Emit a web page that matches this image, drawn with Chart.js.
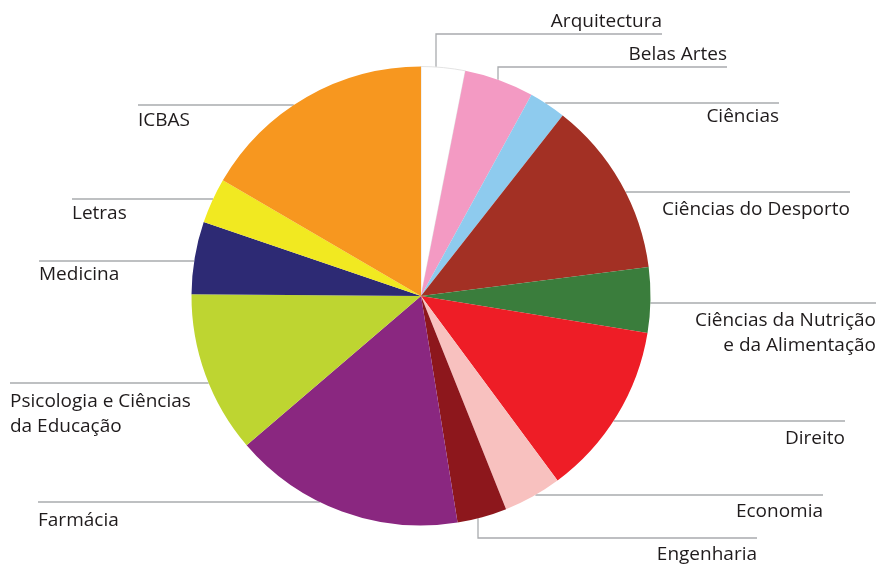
<!DOCTYPE html>
<html>
<head>
<meta charset="utf-8">
<script src="https://cdn.jsdelivr.net/npm/chart.js@4"></script>
<style>
  html, body { margin: 0; padding: 0; background: #fff; }
  #wrap { width: 877px; height: 564px; position: relative; }
</style>
</head>
<body>
<div id="wrap"><canvas id="myChart" width="877" height="564"></canvas></div>
<script>
// Dados: faculdades e fatias (em %)
const faculdades = [
  'Arquitectura', 'Belas Artes', 'Ciências', 'Ciências do Desporto',
  'Ciências da Nutrição e da Alimentação', 'Direito', 'Economia', 'Engenharia',
  'Farmácia', 'Psicologia e Ciências da Educação', 'Medicina', 'Letras', 'ICBAS'
];
const valores = [3.1, 4.9, 2.6, 12.4, 4.6, 12.3, 4.1, 3.5, 16.3, 11.4, 5.1, 3.2, 16.6];
const cores = [
  '#ffffff', '#f39ac3', '#8ecbee', '#a33024', '#3a7d3c', '#ee1d26', '#f8c1bf',
  '#8d171c', '#8a2780', '#bed531', '#2d2a74', '#f1e921', '#f7971f'
];
const textos = [
  ['Arquitectura'], ['Belas Artes'], ['Ciências'], ['Ciências do Desporto'],
  ['Ciências da Nutrição', 'e da Alimentação'], ['Direito'], ['Economia'], ['Engenharia'],
  ['Farmácia'], ['Psicologia e Ciências', 'da Educação'], ['Medicina'], ['Letras'], ['ICBAS']
];

// posição das etiquetas (linha guia + texto)
const etiquetas = [
  { lado: 'r', linhaY: 34, fim: 662, textoY: 22, vx: 436 },
  { lado: 'r', linhaY: 67, fim: 727, textoY: 55, vx: 498 },
  { lado: 'r', linhaY: 103, fim: 779, textoY: 117 },
  { lado: 'r', linhaY: 192, fim: 850, textoY: 210 },
  { lado: 'r', linhaY: 303, fim: 876, textoY: 321 },
  { lado: 'r', linhaY: 421, fim: 845, textoY: 439 },
  { lado: 'r', linhaY: 495, fim: 823, textoY: 512 },
  { lado: 'r', linhaY: 538, fim: 757, textoY: 555, vx: 478 },
  { lado: 'l', linhaY: 502, fim: 38, textoY: 521 },
  { lado: 'l', linhaY: 383, fim: 10, textoY: 402 },
  { lado: 'l', linhaY: 261, fim: 39, textoY: 275 },
  { lado: 'l', linhaY: 199, fim: 72, textoY: 214 },
  { lado: 'l', linhaY: 105, fim: 138, textoY: 121 }
];

const guias = {
  id: 'guias',
  beforeDatasetsDraw(chart) {
    const arc = chart.getDatasetMeta(0).data[0];
    const cx = arc.x, cy = arc.y, r = arc.outerRadius;
    const ctx = chart.ctx;
    ctx.save();
    ctx.strokeStyle = '#a9abae';
    ctx.lineWidth = 1.3;
    etiquetas.forEach(function (e) {
      ctx.beginPath();
      if (e.vx !== undefined) {
        const dy = Math.sqrt(r * r - (e.vx - cx) * (e.vx - cx));
        const y0 = e.linhaY < cy ? cy - dy : cy + dy;
        ctx.moveTo(e.vx, y0);
        ctx.lineTo(e.vx, e.linhaY);
        ctx.lineTo(e.fim, e.linhaY);
      } else {
        const dx = Math.sqrt(Math.max(0, r * r - (e.linhaY - cy) * (e.linhaY - cy)));
        const x0 = e.lado === 'r' ? cx + dx : cx - dx;
        ctx.moveTo(x0, e.linhaY);
        ctx.lineTo(e.fim, e.linhaY);
      }
      ctx.stroke();
    });
    ctx.restore();
  },
  afterDatasetsDraw(chart) {
    const ctx = chart.ctx;
    ctx.save();
    ctx.fillStyle = '#1f1b1c';
    ctx.font = '19px "Open Sans"';
    ctx.textBaseline = 'middle';
    etiquetas.forEach(function (e, i) {
      ctx.textAlign = e.lado === 'r' ? 'right' : 'left';
      textos[i].forEach(function (t, k) {
        ctx.fillText(t, e.fim, e.textoY + k * 24.5);
      });
    });
    ctx.restore();
  }
};

const ctx = document.getElementById('myChart').getContext('2d');
new Chart(ctx, {
  type: 'pie',
  data: {
    labels: faculdades,
    datasets: [{
      data: valores,
      backgroundColor: cores,
      borderColor: ['#e3e3e3', 'transparent', 'transparent', 'transparent', 'transparent', 'transparent',
        'transparent', 'transparent', 'transparent', 'transparent', 'transparent', 'transparent', 'transparent'],
      borderWidth: [1, 0, 0, 0, 0, 0, 0, 0, 0, 0, 0, 0, 0]
    }]
  },
  options: {
    responsive: false,
    animation: false,
    layout: { padding: { left: 191, right: 226, top: 66, bottom: 38 } },
    plugins: {
      legend: { display: false },
      tooltip: { enabled: false }
    }
  },
  plugins: [guias]
});
</script>
</body>
</html>
